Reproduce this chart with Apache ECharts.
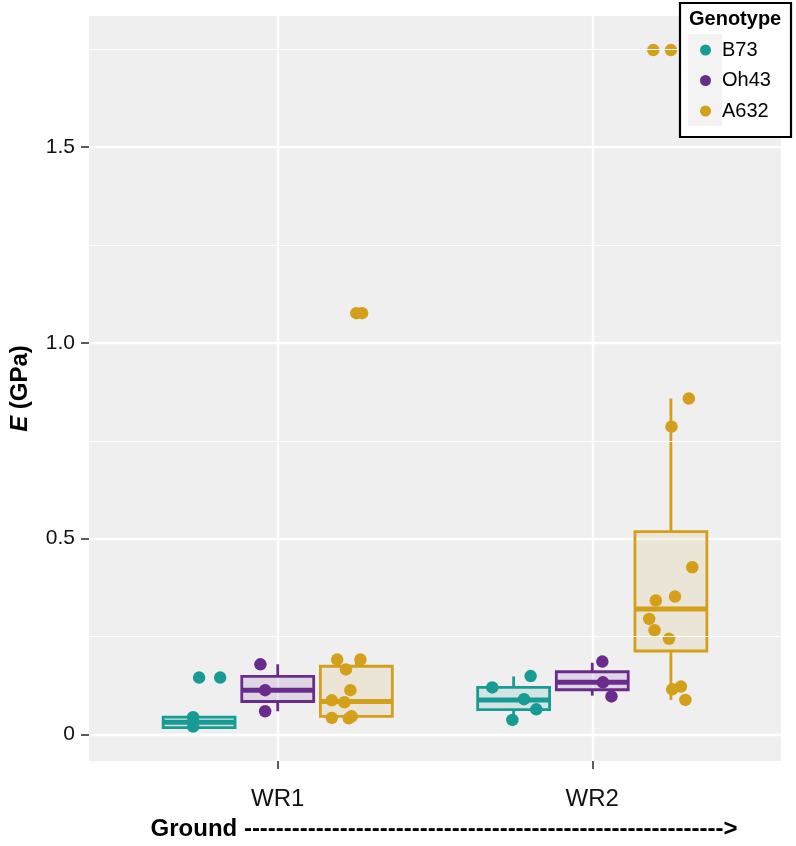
<!DOCTYPE html>
<html><head><meta charset="utf-8">
<script src="https://cdn.jsdelivr.net/npm/echarts@6/dist/echarts.min.js"></script>
<style>html,body{margin:0;padding:0;background:#fff}#c{width:796px;height:846px}</style>
</head><body><div id="c"></div><script>
// ---------- data ----------
const categories = ['WR1', 'WR2'];
const genotypes = ['B73', 'Oh43', 'A632'];
const yTickValues = [0, 0.5, 1, 1.5];
const yTickLabels = ['0', '0.5', '1.0', '1.5'];
const yMinorGrid = [0.25, 0.75, 1.25, 1.75];
const xTitle = 'Ground ' + '-'.repeat(60) + '>';

// box statistics per category: [min, Q1, median, Q3, max]
const boxB73  = [[0.017, 0.017, 0.031, 0.044, 0.044], [0.050, 0.063, 0.088, 0.120, 0.148]];
const boxOh43 = [[0.059, 0.084, 0.113, 0.148, 0.179], [0.099, 0.114, 0.133, 0.160, 0.183]];
const boxA632 = [[0.041, 0.046, 0.084, 0.174, 0.191], [0.088, 0.213, 0.320, 0.518, 0.858]];

// outliers per category
const outB73  = [[0.145], []];
const outOh43 = [[], []];
const outA632 = [[1.076], [1.748]];

// observed values per category, with their horizontal jitter (in category units)
const valB73_WR1  = [0.145, 0.044, 0.020];
const jitB73_WR1  = [0.067, -0.019, -0.019];
const valB73_WR2  = [0.149, 0.120, 0.090, 0.064, 0.037];
const jitB73_WR2  = [0.054, -0.068, 0.033, 0.072, -0.004];
const valOh43_WR1 = [0.179, 0.113, 0.059];
const jitOh43_WR1 = [-0.055, -0.040, -0.040];
const valOh43_WR2 = [0.186, 0.133, 0.097];
const jitOh43_WR2 = [0.032, 0.034, 0.061];
const valA632_WR1 = [0.191, 0.191, 0.166, 0.113, 0.087, 0.082, 0.042, 0.046, 0.041, 1.076];
const jitA632_WR1 = [-0.061, 0.013, -0.033, -0.019, -0.078, -0.038, -0.078, -0.015, -0.024, 0.018];
const valA632_WR2 = [0.858, 0.786, 0.427, 0.352, 0.342, 0.295, 0.266, 0.244, 0.115, 0.122, 0.088, 1.748];
const jitA632_WR2 = [0.057, 0.002, 0.068, 0.013, -0.048, -0.069, -0.052, -0.006, 0.004, 0.032, 0.046, -0.056];

// ---------- styling ----------
const colors = ['#189a95', '#6a2c8c', '#d49f1a'];
const fills  = ['rgba(24,154,149,0.13)', 'rgba(106,44,140,0.13)', 'rgba(212,159,26,0.11)'];
const dodge = [-0.25, 0, 0.25];
const HW = 0.1143;
const FONT = 'Liberation Sans, Arial, Helvetica, sans-serif';

const boxes = [boxB73, boxOh43, boxA632];
const outs = [outB73, outOh43, outA632];
const vals = [[valB73_WR1, valB73_WR2], [valOh43_WR1, valOh43_WR2], [valA632_WR1, valA632_WR2]];
const jits = [[jitB73_WR1, jitB73_WR2], [jitOh43_WR1, jitOh43_WR2], [jitA632_WR1, jitA632_WR2]];

function renderBox(params, api) {
  const x = api.value(0), mn = api.value(1), q1 = api.value(2), md = api.value(3), q3 = api.value(4), mx = api.value(5);
  const gi = api.value(6);
  const c = colors[gi];
  const tl = api.coord([x - HW, q3]), br = api.coord([x + HW, q1]);
  const top = api.coord([x, mx]), pq3 = api.coord([x, q3]), pq1 = api.coord([x, q1]), bot = api.coord([x, mn]);
  const ml = api.coord([x - HW, md]), mr = api.coord([x + HW, md]);
  return {
    type: 'group',
    children: [
      { type: 'line', shape: { x1: top[0], y1: top[1], x2: pq3[0], y2: pq3[1] }, style: { stroke: c, lineWidth: 2.8 } },
      { type: 'line', shape: { x1: pq1[0], y1: pq1[1], x2: bot[0], y2: bot[1] }, style: { stroke: c, lineWidth: 2.8 } },
      { type: 'rect', shape: { x: tl[0], y: tl[1], width: br[0] - tl[0], height: br[1] - tl[1] }, style: { fill: fills[gi], stroke: c, lineWidth: 2.8 } },
      { type: 'line', shape: { x1: ml[0], y1: ml[1], x2: mr[0], y2: mr[1] }, style: { stroke: c, lineWidth: 5 } }
    ]
  };
}

const series = [];
// minor gridlines
series.push({
  type: 'line', data: [], z: 1, silent: true,
  markLine: {
    silent: true, symbol: 'none', label: { show: false },
    lineStyle: { color: '#ffffff', width: 1.2, type: 'solid' },
    emphasis: { disabled: true },
    data: yMinorGrid.map(v => ({ yAxis: v }))
  }
});
// boxes
genotypes.forEach((g, gi) => {
  series.push({
    type: 'custom', name: g + ' box', z: 2, silent: true,
    renderItem: renderBox,
    encode: { x: 0, y: [1, 2, 3, 4, 5] },
    data: categories.map((cat, ci) => [ci + dodge[gi]].concat(boxes[gi][ci]).concat([gi]))
  });
});
// points (outliers at box centre, then jittered observations)
genotypes.forEach((g, gi) => {
  const data = [];
  categories.forEach((cat, ci) => {
    outs[gi][ci].forEach(v => data.push([ci + dodge[gi], v]));
    vals[gi][ci].forEach((v, k) => data.push([ci + dodge[gi] + jits[gi][ci][k], v]));
  });
  series.push({
    type: 'scatter', name: g, z: 3, data: data,
    symbol: 'circle', symbolSize: 12.5,
    itemStyle: { color: colors[gi], opacity: 1 }
  });
});

const chart = echarts.init(document.getElementById('c'), null, { renderer: 'canvas' });
chart.setOption({
  animation: false,
  backgroundColor: '#ffffff',
  textStyle: { fontFamily: FONT },
  grid: { left: 88, right: 15, top: 16, bottom: 84.5, show: true, backgroundColor: '#efefef', borderWidth: 0 },
  xAxis: {
    type: 'value', min: -0.6, max: 1.6,
    axisLine: { show: false, onZero: false },
    axisTick: { show: true, customValues: [0, 1], length: 8, lineStyle: { color: '#333', width: 1.6 } },
    axisLabel: { show: true, customValues: [0, 1], formatter: v => categories[Math.round(v)], fontSize: 24, color: '#111', margin: 26, fontFamily: FONT },
    splitLine: { show: true, lineStyle: { color: '#ffffff', width: 2.4 } },
    minorSplitLine: { show: false },
    name: xTitle, nameLocation: 'middle', nameGap: 56,
    nameTextStyle: { fontSize: 24, fontWeight: 'bold', color: '#000', fontFamily: FONT, padding: [0, 0, 0, 18] }
  },
  yAxis: {
    type: 'value', min: -0.068, max: 1.835,
    axisLine: { show: false, onZero: false },
    axisTick: { show: true, customValues: yTickValues, length: 8, lineStyle: { color: '#333', width: 1.6 } },
    axisLabel: { show: true, customValues: yTickValues, formatter: v => yTickLabels[yTickValues.indexOf(Math.round(v * 10) / 10)], fontSize: 21, color: '#111', margin: 14, fontFamily: FONT },
    splitLine: { show: true, lineStyle: { color: '#ffffff', width: 2.4 } },
    name: '{i|E} {b|(GPa)}', nameLocation: 'middle', nameGap: 57,
    nameTextStyle: {
      fontSize: 24, fontWeight: 'bold', color: '#000', fontFamily: FONT,
      rich: {
        i: { fontSize: 24, fontWeight: 'bold', fontStyle: 'italic', color: '#000', fontFamily: FONT },
        b: { fontSize: 24, fontWeight: 'bold', color: '#000', fontFamily: FONT }
      }
    }
  },
  legend: {
    z: 100,
    data: genotypes, orient: 'vertical', left: 695, top: 35,
    itemWidth: 11, itemHeight: 11, itemGap: 10.5, icon: 'circle',
    textStyle: { fontSize: 20, color: '#000', fontFamily: FONT, padding: [0, 0, 0, 6] },
    selectedMode: false
  },
  graphic: [
    { type: 'rect', z: 90, silent: true, shape: { x: 680, y: 3, width: 111, height: 134 }, style: { fill: '#ffffff', stroke: '#000', lineWidth: 2.2 } },
    { type: 'rect', z: 91, silent: true, shape: { x: 688, y: 34, width: 34, height: 92 }, style: { fill: '#f3f3f3' } },
    { type: 'text', z: 92, silent: true, left: 689, top: 9, style: { text: 'Genotype', font: 'bold 20px ' + FONT, fill: '#000' } }
  ],
  series: series
});
</script></body></html>
